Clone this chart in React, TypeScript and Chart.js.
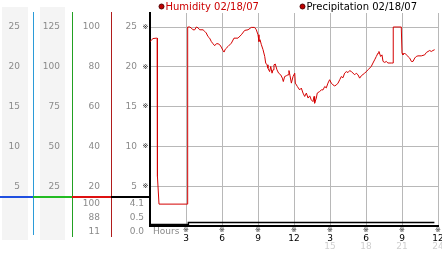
import React, { useEffect, useRef } from 'react';
import { Chart, registerables } from 'chart.js';

Chart.register(...registerables);

// ---- data ----
const legendLabels = ['Humidity 02/18/07', 'Precipitation 02/18/07'];

const humidityHours = [
  0, 0.25, 0.53, 0.6, 0.62, 0.75, 3.12, 3.14, 3.31, 3.44, 3.58, 3.73, 3.86, 4.0, 4.14, 4.42, 4.56, 4.69, 4.83, 4.97,
  5.11, 5.25, 5.39, 5.53, 5.67, 5.81, 5.94, 6.08, 6.17, 6.28, 6.5, 6.78, 7.0, 7.33, 7.61, 7.89, 8.17, 8.44, 8.72, 8.86,
  9.0, 9.08, 9.17, 9.28, 9.42, 9.56, 9.64, 9.75, 9.83, 9.97, 10.06, 10.17, 10.25, 10.33, 10.44, 10.58, 10.72, 10.89, 11.03, 11.11,
  11.22, 11.36, 11.5, 11.58, 11.67, 11.78, 11.92, 12.06, 12.11, 12.28, 12.47, 12.61, 12.75, 12.89, 13.03, 13.17, 13.31, 13.44, 13.58, 13.67,
  13.72, 13.86, 13.94, 14.14, 14.28, 14.42, 14.56, 14.69, 14.83, 14.97, 15.11, 15.25, 15.39, 15.53, 15.67, 15.81, 15.94, 16.08, 16.22, 16.36,
  16.5, 16.64, 16.78, 16.92, 17.06, 17.19, 17.33, 17.47, 17.61, 17.89, 18.17, 18.44, 18.58, 18.72, 18.86, 19.0, 19.08, 19.22, 19.33, 19.42,
  19.56, 19.69, 19.83, 20.11, 20.25, 20.27, 20.94, 21.0, 21.08, 21.22, 21.36, 21.5, 21.64, 21.78, 21.92, 22.06, 22.19, 22.33, 22.61, 22.89,
  23.03, 23.17, 23.31, 23.44, 23.58, 23.72,
];
const humidityValues = [
  92.7, 94.2, 94.4, 94.4, 24.8, 11, 11, 100, 100, 99.5, 98.6, 98.6, 100, 99.6, 98.6, 98.6, 97.8, 97, 95.2, 94.4,
  92.7, 91.6, 90.6, 91.6, 91.6, 91.1, 89.9, 88.2, 87.4, 88.9, 90.2, 91.9, 94.4, 94.4, 96.1, 98.3, 98.6, 99.8, 99.8, 98.6,
  96.1, 92.7, 93.6, 91.1, 88.6, 85.2, 81.9, 81, 79.3, 77.6, 80.2, 76.8, 78.5, 81, 81.4, 78.5, 76.8, 76, 74.3, 72.6,
  75.1, 75.5, 76, 78.1, 75.5, 71.8, 75.1, 76.8, 71.8, 70.1, 68.4, 69.3, 66.8, 65.1, 66.8, 64.3, 65.4, 63.4, 62.5, 65.1,
  61.7, 64.3, 66.8, 67.6, 68.4, 68.4, 70.1, 69.4, 71.8, 73.5, 71.8, 70.9, 70.4, 70.9, 71.8, 73.5, 75.1, 74.5, 76.8, 77.6,
  77.1, 78.1, 77.6, 76.8, 76, 76.8, 76, 74.3, 75.5, 76.8, 78.5, 80.2, 81.9, 83.5, 85.2, 86.9, 87.7, 85.2, 86, 82.7,
  82.2, 82.7, 81.9, 81.9, 81.9, 100, 100, 86.9, 86, 86.9, 86, 85.2, 84.4, 82.7, 82.7, 84.4, 85.2, 85.5, 85.5, 86,
  87.2, 87.7, 88.2, 87.7, 88.2, 88.6,
];

const precipHours = [0, 3.2, 4.6, 23.7];
const precipValues = [0, 0.2, 0.5, 0.5];

const xTicks = [3, 6, 9, 12, 15, 18, 21, 24];
const xTickLabels = ['3', '6', '9', '12', '3', '6', '9', '12'];
const x24Ticks = [15, 18, 21, 24];
const x24Labels = ['15', '18', '21', '24'];

const col1Ticks = [5, 10, 15, 20, 25];
const col2Ticks = [25, 50, 75, 100, 125];
const humidityTicks = [20, 40, 60, 80, 100];
const mainTicks = [5, 10, 15, 20, 25];

const humidityStats = ['100', '88', '11'];
const precipStats = ['4.1', '0.5', '0.0'];
const precipMax = 4.1;

// ---- styling ----
const FONT = 'DejaVu Sans';
const GRAY = '#8a8a8a';
const MAIN_MAX = 26.76;

const fixTicks = (vals: number[]) => (scale: any) => {
  scale.ticks = vals.map((v) => ({ value: v }));
};
const fixWidth = (w: number) => (scale: any) => {
  scale.width = w;
  scale.paddingTop = 0;
  scale.paddingBottom = 0;
};
const fixHeight = (h: number) => (scale: any) => {
  scale.height = h;
  scale.paddingLeft = 0;
  scale.paddingRight = 0;
};

const decor = {
  id: 'decor',
  beforeDraw(chart: any) {
    const ctx = chart.ctx;
    const s = chart.scales;
    ctx.save();
    ctx.fillStyle = '#f4f4f4';
    ctx.fillRect(s.y1.left + 2, 7, s.y1.width - 7, 233);
    ctx.fillRect(s.y2.left + 7, 7, s.y2.width - 14, 233);
    ctx.restore();
  },
  afterDraw(chart: any) {
    const ctx = chart.ctx;
    const s = chart.scales;
    const area = chart.chartArea;
    ctx.save();

    // column dividers
    const verts: [number, string, number][] = [
      [s.y1.right, '#2b9bd8', 235],
      [s.y2.right, '#22a022', 237],
      [s.yH.right, '#b01c1c', 237],
    ];
    verts.forEach(([x, c, b]) => {
      ctx.fillStyle = c;
      ctx.fillRect(Math.round(x), 12, 1, b - 12);
    });

    // separator between humidity and precipitation panels
    const sepY = Math.round(s.yP.getPixelForValue(precipMax));
    const segs: [number, number, string][] = [
      [0, s.y1.right, '#1f4fe0'],
      [s.y1.right, s.y2.right, '#22bb22'],
      [s.y2.right, s.yH.right, '#dd1111'],
      [s.yH.right, s.y.right, '#000000'],
    ];
    segs.forEach(([a, b, c]) => {
      ctx.fillStyle = c;
      ctx.fillRect(a, sepY - 1, b - a, 2);
    });

    // stats under separator
    ctx.font = `9px "${FONT}"`;
    ctx.fillStyle = GRAY;
    ctx.textAlign = 'right';
    ctx.textBaseline = 'middle';
    humidityStats.forEach((t, i) => ctx.fillText(t, s.yH.right - 11, sepY + 6.5 + i * 14));
    precipStats.forEach((t, i) => ctx.fillText(t, s.y.right - 6, sepY + 6.5 + i * 14));

    // Hours label
    ctx.textAlign = 'left';
    ctx.fillText('Hours', area.left + 3, 232);

    // tick marks
    ctx.fillStyle = '#222';
    ctx.font = `7px "${FONT}"`;
    ctx.textAlign = 'center';
    s.y.ticks.forEach((t: any) => ctx.fillText('\u203B', area.left - 4.5, s.y.getPixelForValue(t.value)));
    s.x.ticks.forEach((t: any) => ctx.fillText('\u203B', s.x.getPixelForValue(t.value), 230.5));

    // legend
    ctx.font = `10px "${FONT}"`;
    ctx.textAlign = 'left';
    const legend: [number, string][] = [
      [161.5, '#cc0000'],
      [302.5, '#000000'],
    ];
    legend.forEach(([cx, col], i) => {
      ctx.beginPath();
      ctx.arc(cx, 6.5, 2.5, 0, Math.PI * 2);
      ctx.fillStyle = '#c00000';
      ctx.fill();
      ctx.strokeStyle = '#500000';
      ctx.lineWidth = 1;
      ctx.stroke();
      ctx.fillStyle = col;
      ctx.fillText(chart.data.datasets[i].label, cx + 4, 7);
    });
    ctx.restore();
  },
};

export default function App() {
  const ref = useRef<HTMLCanvasElement | null>(null);

  useEffect(() => {
    document.body.style.margin = '0';
    const canvas = ref.current;
    if (!canvas) return;
    const tickFont = { family: FONT, size: 9 };
    const chart = new Chart(canvas, {
      type: 'line',
      data: {
        datasets: [
          {
            label: legendLabels[0],
            data: humidityHours.map((h, i) => ({ x: h, y: humidityValues[i] })),
            borderColor: '#d40000',
            borderWidth: 1,
            pointRadius: 0,
            tension: 0,
            yAxisID: 'yH',
            xAxisID: 'x',
          },
          {
            label: legendLabels[1],
            data: precipHours.map((h, i) => ({ x: h, y: precipValues[i] })),
            borderColor: '#000000',
            borderWidth: 1.5,
            pointRadius: 0,
            stepped: 'after',
            yAxisID: 'yP',
            xAxisID: 'x',
          },
        ],
      },
      options: {
        animation: false,
        responsive: false,
        devicePixelRatio: 1,
        layout: { padding: { top: 13, right: 4, bottom: 0, left: 0 } },
        plugins: { legend: { display: false }, tooltip: { enabled: false } },
        scales: {
          x: {
            type: 'linear',
            position: 'bottom',
            weight: 0,
            min: 0,
            max: 24,
            afterBuildTicks: fixTicks(xTicks),
            afterFit: fixHeight(15),
            ticks: {
              autoSkip: false,
              maxRotation: 0,
              color: '#000',
              font: tickFont,
              padding: 7,
              callback: (_v: any, i: number) => xTickLabels[i],
            },
            grid: { color: '#b8b8b8', drawTicks: false, lineWidth: 1 },
            border: { color: '#000', width: 2 },
          },
          x2: {
            type: 'linear',
            position: 'bottom',
            weight: 1,
            min: 0,
            max: 24,
            afterBuildTicks: fixTicks(x24Ticks),
            afterFit: fixHeight(12),
            ticks: {
              autoSkip: false,
              maxRotation: 0,
              color: '#cfcfcf',
              font: tickFont,
              padding: 0,
              callback: (_v: any, i: number) => x24Labels[i],
            },
            grid: { display: false, drawTicks: false },
            border: { display: false },
          },
          y: {
            type: 'linear',
            position: 'left',
            weight: 0,
            min: 0,
            max: MAIN_MAX,
            afterBuildTicks: fixTicks(mainTicks),
            afterFit: fixWidth(39),
            ticks: { color: GRAY, font: tickFont, padding: 13 },
            grid: { color: '#b8b8b8', drawTicks: false, lineWidth: 1 },
            border: { color: '#000', width: 2 },
          },
          yH: {
            type: 'linear',
            position: 'left',
            weight: 1,
            min: 0,
            max: MAIN_MAX * 4,
            afterBuildTicks: fixTicks(humidityTicks),
            afterFit: fixWidth(39),
            ticks: { color: GRAY, font: tickFont, padding: 11 },
            grid: { display: false, drawTicks: false },
            border: { display: false },
          },
          y2: {
            type: 'linear',
            position: 'left',
            weight: 2,
            min: 0,
            max: MAIN_MAX * 5,
            afterBuildTicks: fixTicks(col2Ticks),
            afterFit: fixWidth(39),
            ticks: { color: GRAY, font: tickFont, padding: 12 },
            grid: { display: false, drawTicks: false },
            border: { display: false },
          },
          y1: {
            type: 'linear',
            position: 'left',
            weight: 3,
            min: 0,
            max: MAIN_MAX,
            afterBuildTicks: fixTicks(col1Ticks),
            afterFit: fixWidth(33),
            ticks: { color: GRAY, font: tickFont, padding: 13 },
            grid: { display: false, drawTicks: false },
            border: { display: false },
          },
          yP: {
            type: 'linear',
            display: false,
            min: 0,
            max: 30.4,
          },
        },
      },
      plugins: [decor],
    } as any);
    return () => chart.destroy();
  }, []);

  return (
    <div style={{ position: 'fixed', left: 0, top: 0, width: 442, height: 253, background: '#fff' }}>
      <canvas ref={ref} width={442} height={253} style={{ display: 'block' }} />
    </div>
  );
}
